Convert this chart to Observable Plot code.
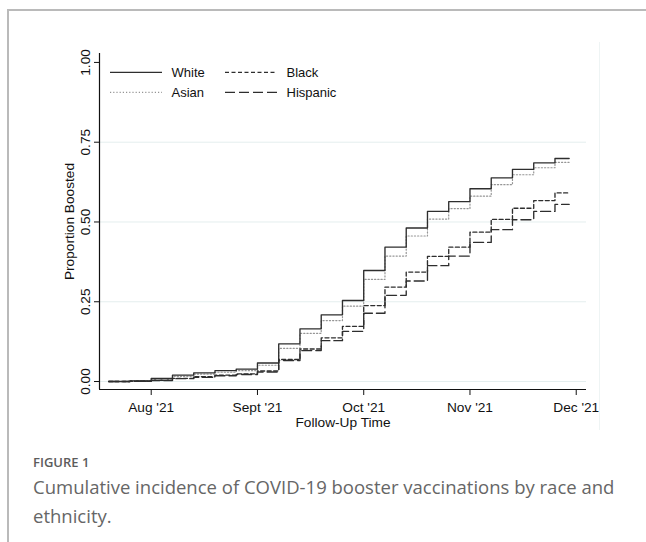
<!DOCTYPE html>
<html><head><meta charset="utf-8">
<script src="https://cdn.jsdelivr.net/npm/d3@7"></script>
<script src="https://cdn.jsdelivr.net/npm/@observablehq/plot@0.6"></script>
<style>
html,body{margin:0;padding:0;background:#fff;}
body{width:646px;height:542px;overflow:hidden;position:relative;font-family:"Liberation Sans",Arial,sans-serif;}
#frame{position:absolute;left:7px;top:9px;width:700px;height:600px;border-left:2px solid #bababa;border-top:2px solid #bababa;}
#imgedge{position:absolute;left:599px;top:42px;width:1px;height:388px;background:#eef4f4;}
#chart{position:absolute;left:0;top:0;}
#legend{position:absolute;left:0;top:0;}
#fig{position:absolute;left:33px;top:454px;font-family:"Open Sans",sans-serif;font-weight:600;font-size:13px;line-height:16px;color:#5c5c5c;}
#cap{position:absolute;left:33px;top:472px;font-family:"Open Sans",sans-serif;font-weight:400;font-size:18.5px;line-height:29px;color:#666;white-space:nowrap;}
</style></head><body>
<div id="frame"></div>
<div id="imgedge"></div>
<div id="chart"></div>
<svg id="legend" width="646" height="120"></svg>
<div id="fig">FIGURE 1</div>
<div id="cap">Cumulative incidence of COVID-19 booster vaccinations by race and<br>ethnicity.</div>
<script>
// Step start days (follow-up days, Aug '21 = 30)
const days = [18,24,30,36,42,48,54,60,66,72,78,84,90,96,102,108,114,120,126,132,138,144];
const endDay = 148;
const white    = [0,0.002,0.010,0.020,0.027,0.034,0.039,0.058,0.118,0.165,0.209,0.254,0.348,0.421,0.481,0.533,0.564,0.604,0.638,0.665,0.685,0.699];
const black    = [0,0.001,0.004,0.010,0.015,0.020,0.024,0.033,0.069,0.102,0.137,0.173,0.238,0.296,0.343,0.392,0.421,0.468,0.508,0.543,0.567,0.591];
const asian    = [0,0.002,0.007,0.016,0.023,0.029,0.034,0.051,0.104,0.151,0.191,0.236,0.320,0.393,0.456,0.509,0.542,0.581,0.617,0.648,0.670,0.687];
const hispanic = [0,0.001,0.003,0.009,0.013,0.018,0.022,0.030,0.066,0.097,0.128,0.157,0.214,0.270,0.315,0.363,0.393,0.436,0.476,0.507,0.533,0.555];
const seriesNames = ["White","Black","Asian","Hispanic"];
const xTicks = [30,60,90,120,150];
const xLabels = ["Aug '21","Sept '21","Oct '21","Nov '21","Dec '21"];
const yTicks = [0,0.25,0.5,0.75,1];
const gridVals = [0,0.25,0.5,0.75];

const styles = {
  White:    {stroke:"#2e2e2e", dash:null,   width:1.35},
  Black:    {stroke:"#2e2e2e", dash:"4,2.5",width:1.35},
  Asian:    {stroke:"#959595", dash:"1.2,2",width:1.2},
  Hispanic: {stroke:"#2e2e2e", dash:"10,4", width:1.35}
};
const valuesBy = {White:white, Black:black, Asian:asian, Hispanic:hispanic};
const rows = [];
for (const s of seriesNames) {
  const v = valuesBy[s];
  days.forEach((d,i) => rows.push({series:s, day:d, v:v[i]}));
  rows.push({series:s, day:endDay, v:v[v.length-1]});
}
const xMin = 15.4, xMax = 152.9, yMin = -0.025, yMax = 1.028;

const lineMarks = ["Asian","Hispanic","Black","White"].map(s => Plot.line(rows.filter(r => r.series===s), {
  x:"day", y:"v", curve:"step-after", stroke:styles[s].stroke, strokeWidth:styles[s].width,
  strokeDasharray:styles[s].dash
}));

const chart = Plot.plot({
  width:646, height:440,
  marginLeft:99, marginRight:60, marginTop:53, marginBottom:51,
  style:{fontFamily:"'Liberation Sans', Arial, sans-serif", fontSize:"13.7px", color:"#111", background:"transparent"},
  x:{domain:[xMin,xMax]},
  y:{domain:[yMin,yMax]},
  marks:[
    Plot.gridY(gridVals, {stroke:"#e4eeee", strokeOpacity:1, strokeWidth:1}),
    ...lineMarks,
    Plot.ruleX([xMin], {stroke:"#111", strokeWidth:1.2}),
    Plot.ruleY([yMin], {stroke:"#111", strokeWidth:1.2}),
    Plot.axisX(xTicks, {tickSize:6, tickPadding:7, tickFormat:(d)=>xLabels[xTicks.indexOf(d)], stroke:"#111", fill:"#111", label:null, fontSize:13.7}),
    Plot.axisY(yTicks, {tickSize:5, tickPadding:5, tickRotate:-90, tickFormat:d3.format(".2f"), stroke:"#111", fill:"#111", label:null, fontSize:13.7}),
    Plot.text(["Proportion Boosted"], {frameAnchor:"left", dx:-26, rotate:-90, lineAnchor:"bottom", textAnchor:"middle", fill:"#111", fontSize:13.7}),
    Plot.text(["Follow-Up Time"], {frameAnchor:"bottom", dy:37, lineAnchor:"bottom", textAnchor:"middle", fill:"#111", fontSize:13.7})
  ]
});
document.getElementById("chart").appendChild(chart);

// Legend
const leg = d3.select("#legend");
leg.append("rect").attr("x",104).attr("y",58).attr("width",250).attr("height",46).attr("fill","#fff");
const legItems = [
  {s:"White", col:0, row:0},{s:"Black", col:1, row:0},
  {s:"Asian", col:0, row:1},{s:"Hispanic", col:1, row:1}
];
for (const it of legItems) {
  const x0 = it.col ? 225 : 110, y = it.row ? 92.3 : 72.3;
  const st = styles[it.s];
  leg.append("line").attr("x1",x0).attr("x2",x0+52).attr("y1",y).attr("y2",y)
    .attr("stroke",st.stroke).attr("stroke-width",st.width).attr("stroke-dasharray",st.dash);
  leg.append("text").attr("x", x0+61.5).attr("y", y+4.6).text(it.s)
    .attr("font-family","'Liberation Sans', Arial, sans-serif").attr("font-size",13).attr("fill","#111");
}
</script>
</body></html>
